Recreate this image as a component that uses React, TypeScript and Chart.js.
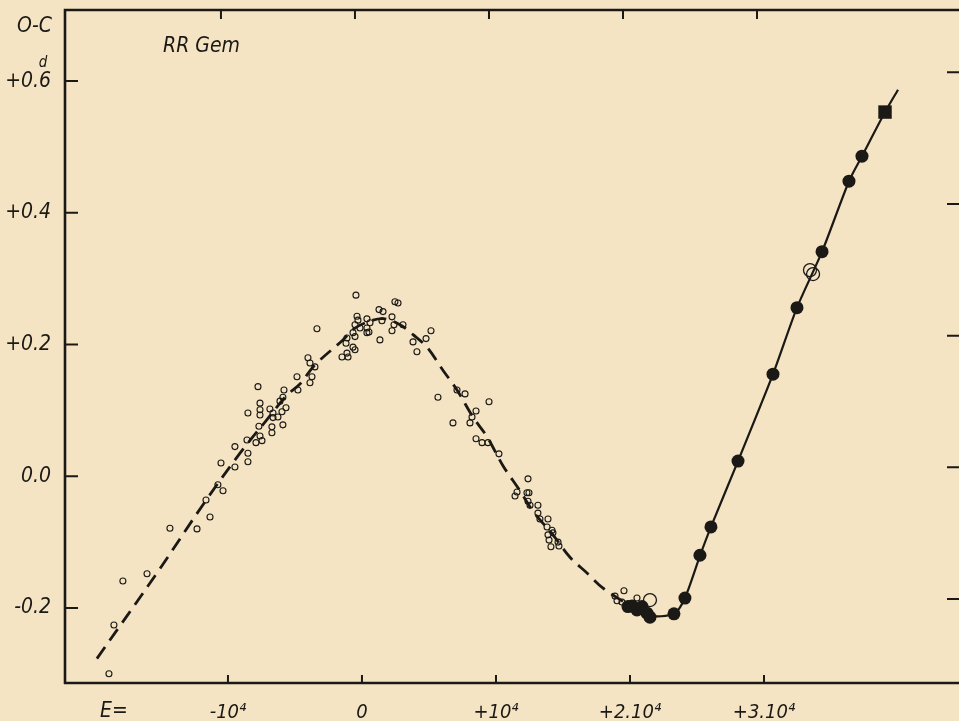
import React, { useEffect, useRef } from "react";
import { Chart, registerables } from "chart.js";

Chart.register(...registerables);

// ---------- axis definitions ----------
const xTickValues = [-10000, 0, 10000, 20000, 30000];
const xTickLabels = ["-10⁴", "0", "+10⁴", "+2.10⁴", "+3.10⁴"];
const yTickValues = [-0.2, 0, 0.2, 0.4, 0.6];
const yTickLabels = ["-0.2", "0.0", "+0.2", "+0.4", "+0.6"];
const X_MIN = -22160;
const X_MAX = 44550;
const Y_MIN = -0.314;
const Y_MAX = 0.708;
const RIGHT_TICK_SHIFT = 0.0135;

// ---------- fitted curve (dashed, older epochs) ----------
const dashE = [-19780, -15300, -11720, -9100, -7090, -5600, -4630, -3510, -1420, -520, 820, 1720, 2840, 3810, 4850, 6040, 7090, 8280, 9330, 10520, 11790, 12760, 14250, 15520, 16790, 17990, 19850];
const dashOC = [-0.277, -0.147, -0.039, 0.035, 0.086, 0.123, 0.140, 0.169, 0.207, 0.225, 0.237, 0.239, 0.230, 0.215, 0.196, 0.161, 0.131, 0.090, 0.060, 0.016, -0.022, -0.053, -0.089, -0.123, -0.147, -0.170, -0.195];

// ---------- fitted curve (solid, recent epochs) ----------
const solidE = [19850, 21340, 23280, 24100, 25220, 26040, 28060, 30670, 32460, 34330, 36340, 37310, 39030, 40000];
const solidOC = [-0.195, -0.212, -0.209, -0.185, -0.121, -0.077, 0.023, 0.155, 0.256, 0.341, 0.448, 0.486, 0.553, 0.587];

// ---------- small open circles (visual timings) ----------
const riseE = [-18880, -18510, -17840, -16040, -14330, -12310, -11340, -11640, -10750, -10370, -10520, -9480, -9480, -8510, -8510, -8580, -7910, -7460, -7610, -6720, -7690, -6720, -5900, -6640, -6270, -5970, -5670, -6120, -7610, -7610, -7610, -6870, -6640, -8510, -5900, -5820, -7760, -4850, -4780, -3880, -3730, -3880, -4030, -3360, -3510];
const riseOC = [-0.300, -0.226, -0.159, -0.148, -0.079, -0.080, -0.062, -0.036, -0.013, -0.022, 0.020, 0.014, 0.045, 0.022, 0.035, 0.055, 0.051, 0.054, 0.061, 0.066, 0.076, 0.075, 0.078, 0.089, 0.090, 0.098, 0.104, 0.114, 0.093, 0.101, 0.111, 0.102, 0.096, 0.096, 0.120, 0.131, 0.136, 0.151, 0.131, 0.142, 0.151, 0.172, 0.180, 0.224, 0.166];
const peakE = [-450, 2460, 2690, 1270, 1570, -370, -300, 370, 600, 1490, 2240, 2390, -520, -150, 370, 520, 2240, 3060, -670, -520, 370, 5150, -1120, 1340, 3810, 4780, -1190, -670, -520, 4100, -1120, -1490, -1040];
const peakOC = [0.275, 0.265, 0.263, 0.253, 0.250, 0.243, 0.237, 0.239, 0.233, 0.236, 0.242, 0.230, 0.230, 0.225, 0.225, 0.219, 0.221, 0.230, 0.218, 0.212, 0.218, 0.221, 0.210, 0.207, 0.204, 0.209, 0.202, 0.196, 0.192, 0.189, 0.187, 0.181, 0.181];
const fallE = [5670, 7090, 7690, 9480, 8510, 8210, 8060, 6790, 8510, 8960, 9400, 10220, 12390, 11420, 11570, 12310, 12460, 12390, 12540, 13130, 13130, 13280, 13880, 13810, 14180, 13880, 14250, 13960, 14630, 14100, 14700, 19550, 18880, 19030, 19400, 20520];
const fallOC = [0.120, 0.131, 0.125, 0.113, 0.099, 0.090, 0.081, 0.081, 0.057, 0.051, 0.051, 0.034, -0.004, -0.030, -0.024, -0.025, -0.025, -0.038, -0.044, -0.044, -0.056, -0.065, -0.065, -0.077, -0.082, -0.089, -0.086, -0.097, -0.100, -0.107, -0.106, -0.174, -0.182, -0.189, -0.191, -0.185];

// ---------- large open circles ----------
const bigOpenE = [21490, 33430, 33660];
const bigOpenOC = [-0.188, 0.313, 0.307];

// ---------- filled circles ----------
const filledE = [19850, 20150, 20520, 20900, 21270, 21490, 23280, 24100, 25220, 26040, 28060, 30670, 32460, 34330, 36340, 37310];
const filledOC = [-0.198, -0.197, -0.203, -0.198, -0.208, -0.214, -0.209, -0.185, -0.120, -0.077, 0.023, 0.155, 0.256, 0.341, 0.448, 0.486];

// ---------- square ----------
const squareE = [39030];
const squareOC = [0.553];

const FONT = "'Liberation Sans Narrow', 'DejaVu Sans Condensed', 'Liberation Sans', 'DejaVu Sans', sans-serif";
const INK = "#1b1916";
const PAPER = "#f4e4c3";

const pts = (xs: number[], ys: number[]) => xs.map((x, i) => ({ x, y: ys[i] }));

const framePlugin = {
  id: "frame",
  afterDraw(chart: any) {
    const { ctx, chartArea } = chart;
    const { left, right, top, bottom } = chartArea;
    const xs = chart.scales.x;
    const ys = chart.scales.y;
    const y2 = chart.scales.y2;
    ctx.save();
    ctx.strokeStyle = INK;
    ctx.lineCap = "butt";
    ctx.lineWidth = 2.6;
    ctx.beginPath();
    ctx.moveTo(left, bottom + 1);
    ctx.lineTo(left, top);
    ctx.lineTo(right, top);
    ctx.moveTo(left - 1, bottom);
    ctx.lineTo(right, bottom);
    ctx.stroke();

    ctx.lineWidth = 2;
    ctx.beginPath();
    for (const v of yTickValues) {
      const py = ys.getPixelForValue(v);
      ctx.moveTo(left, py);
      ctx.lineTo(left + 13, py);
      const pr = y2.getPixelForValue(v);
      ctx.moveTo(right - 12, pr);
      ctx.lineTo(right, pr);
    }
    for (const v of xTickValues) {
      const px = xs.getPixelForValue(v);
      ctx.moveTo(px, bottom);
      ctx.lineTo(px, bottom - 8);
      ctx.moveTo(px - 7, top);
      ctx.lineTo(px - 7, top + 9);
    }
    ctx.stroke();

    ctx.fillStyle = INK;
    ctx.font = `italic 21px ${FONT}`;
    ctx.textAlign = "right";
    ctx.textBaseline = "middle";
    ctx.fillText("O-C", left - 13, top + 17);
    ctx.font = `italic 15px ${FONT}`;
    ctx.textAlign = "center";
    ctx.fillText("d", left - 22, top + 53);
    ctx.font = `italic 21px ${FONT}`;
    ctx.textAlign = "left";
    ctx.fillText("RR Gem", left + 98, top + 37);
    ctx.textAlign = "center";
    ctx.fillText("E=", left + 49, bottom + 29);
    ctx.restore();
  },
};

export default function App() {
  const ref = useRef<HTMLCanvasElement | null>(null);

  useEffect(() => {
    if (!ref.current) return;
    const openStyle = {
      showLine: false,
      pointRadius: 3,
      pointBorderWidth: 1.1,
      pointBorderColor: INK,
      pointBackgroundColor: "rgba(0,0,0,0)",
    };
    const chart = new Chart(ref.current, {
      type: "scatter",
      data: {
        datasets: [
          {
            label: "square",
            data: pts(squareE, squareOC),
            pointStyle: "rect",
            pointRadius: 9.5,
            pointBorderWidth: 0,
            pointBackgroundColor: INK,
            showLine: false,
          },
          {
            label: "filled",
            data: pts(filledE, filledOC),
            pointRadius: 6.5,
            pointBorderWidth: 0,
            pointBackgroundColor: INK,
            showLine: false,
          },
          {
            label: "big open",
            data: pts(bigOpenE, bigOpenOC),
            pointRadius: 6.5,
            pointBorderWidth: 1.3,
            pointBorderColor: INK,
            pointBackgroundColor: "rgba(0,0,0,0)",
            showLine: false,
          },
          { label: "rise", data: pts(riseE, riseOC), ...openStyle },
          { label: "peak", data: pts(peakE, peakOC), ...openStyle },
          { label: "fall", data: pts(fallE, fallOC), ...openStyle },
          {
            label: "solid fit",
            data: pts(solidE, solidOC),
            showLine: true,
            borderColor: INK,
            borderWidth: 2.2,
            pointRadius: 0,
            tension: 0.25,
          },
          {
            label: "dashed fit",
            data: pts(dashE, dashOC),
            showLine: true,
            borderColor: INK,
            borderWidth: 2.8,
            borderDash: [14, 8],
            pointRadius: 0,
            tension: 0.35,
          },
        ],
      },
      options: {
        responsive: false,
        maintainAspectRatio: false,
        devicePixelRatio: 1,
        animation: false,
        layout: { autoPadding: false, padding: { top: 10, right: 0, bottom: 0, left: 0 } },
        plugins: { legend: { display: false }, tooltip: { enabled: false } },
        scales: {
          x: {
            type: "linear",
            position: "bottom",
            min: X_MIN,
            max: X_MAX,
            grid: { display: false, drawTicks: false },
            border: { display: false },
            afterBuildTicks: (s: any) => {
              s.ticks = xTickValues.map((value) => ({ value }));
            },
            afterFit: (s: any) => {
              s.height = 38;
              s.paddingLeft = 0;
              s.paddingRight = 0;
              s.paddingTop = 0;
              s.paddingBottom = 0;
            },
            ticks: {
              autoSkip: false,
              maxRotation: 0,
              padding: 18,
              color: INK,
              font: { family: FONT, size: 20, style: "italic" },
              callback: (_v: any, i: number) => xTickLabels[i],
            },
          },
          y: {
            type: "linear",
            position: "left",
            min: Y_MIN,
            max: Y_MAX,
            grid: { display: false, drawTicks: false },
            border: { display: false },
            afterBuildTicks: (s: any) => {
              s.ticks = yTickValues.map((value) => ({ value }));
            },
            afterFit: (s: any) => {
              s.width = 65;
              s.paddingLeft = 0;
              s.paddingRight = 0;
              s.paddingTop = 0;
              s.paddingBottom = 0;
            },
            ticks: {
              autoSkip: false,
              padding: 14,
              color: INK,
              font: { family: FONT, size: 21, style: "italic" },
              callback: (_v: any, i: number) => yTickLabels[i],
            },
          },
          y2: {
            type: "linear",
            display: false,
            min: Y_MIN - RIGHT_TICK_SHIFT,
            max: Y_MAX - RIGHT_TICK_SHIFT,
          },
        },
      },
      plugins: [framePlugin],
    });
    return () => chart.destroy();
  }, []);

  return (
    <div style={{ position: "fixed", left: 0, top: 0, width: 959, height: 721, background: PAPER, overflow: "hidden" }}>
      <canvas ref={ref} width={959} height={721} style={{ display: "block" }} />
    </div>
  );
}
